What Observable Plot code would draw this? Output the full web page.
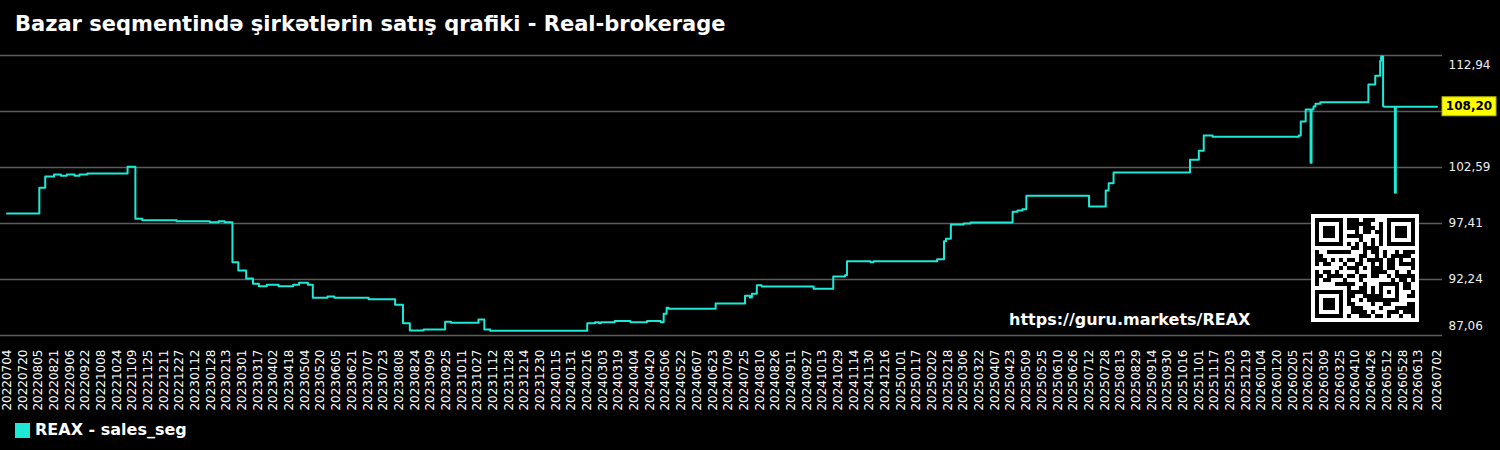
<!DOCTYPE html>
<html>
<head>
<meta charset="utf-8">
<script src="https://cdn.jsdelivr.net/npm/d3@7"></script>
<script src="https://cdn.jsdelivr.net/npm/@observablehq/plot@0.6"></script>
<style>
  html, body { margin: 0; padding: 0; background: #000; }
  #wrap { position: relative; width: 1500px; height: 450px; background: #000; overflow: hidden;
          font-family: "DejaVu Sans", sans-serif; color: #fff; }
  #title { position: absolute; left: 15px; top: 12px; font-size: 21px; font-weight: bold; line-height: 1.164; white-space: nowrap; }
  #chart { position: absolute; left: 0; top: 40px; }
  #legend { position: absolute; left: 15px; top: 421px; font-size: 16px; font-weight: bold; line-height: 1.164;
            display: flex; align-items: center; white-space: nowrap; }
  #legend .sw { width: 15px; height: 15px; margin-right: 5px; }
  #wm { position: absolute; left: 1009px; top: 311px; font-size: 16px; font-weight: bold; line-height: 1.164; white-space: nowrap; }
  #qr { position: absolute; left: 1311px; top: 214px; }
</style>
</head>
<body>
<div id="wrap">
  <div id="title"></div>
  <div id="chart"></div>
  <div id="wm"></div>
  <div id="qr"></div>
  <div id="legend"><div class="sw"></div><span></span></div>
</div>
<script>
// ---------------- data ----------------
const titleText = "Bazar seqmentində şirkətlərin satış qrafiki - Real-brokerage";
const seriesName = "REAX - sales_seg";
const watermark = "https://guru.markets/REAX";

// change points of the step series (date, value)
const dates = [
  "20220704","20220806","20220812","20220821","20220828","20220903","20220911","20220916","20220924",
  "20221104","20221112","20221119","20221224","20230127","20230205","20230211","20230219","20230225",
  "20230305","20230312","20230318","20230326","20230407","20230422","20230428","20230507","20230512",
  "20230527","20230603","20230708","20230804","20230812","20230819","20230902","20230924","20230930",
  "20231028","20231103","20231109","20240216","20240224","20240228","20240301","20240315","20240331",
  "20240417","20240501","20240504","20240507","20240509","20240626","20240726","20240731","20240802",
  "20240807","20240812","20241004","20241024","20241105","20241107","20241201","20241204","20250207",
  "20250214","20250216","20250221","20250306","20250313","20250425","20250430","20250505","20250509",
  "20250712","20250729","20250801","20250806","20251023","20251101","20251106","20251115","20260211",
  "20260213","20260218","20260223","20260224","20260226","20260228","20260305","20260423","20260430",
  "20260505","20260506","20260508","20260509","20260520","20260521","20260702"
];
const values = [
  98.34,100.71,101.76,101.94,101.82,101.94,101.82,101.94,102.03,
  102.65,97.85,97.72,97.62,97.53,97.62,97.53,93.84,93.07,
  92.33,91.84,91.62,91.75,91.62,91.75,91.93,91.75,90.54,
  90.66,90.54,90.42,89.91,88.20,87.52,87.61,88.32,88.23,
  88.54,87.61,87.49,88.20,88.29,88.20,88.29,88.41,88.29,
  88.41,88.29,89.07,89.62,89.53,90.02,90.73,90.57,90.91,
  91.71,91.59,91.38,92.51,92.63,93.93,93.84,93.93,94.11,
  95.78,96.00,97.32,97.41,97.50,98.49,98.61,98.73,99.97,
  98.98,100.46,101.14,102.13,103.30,104.13,105.55,105.43,105.55,
  106.84,107.95,103.02,107.95,108.23,108.48,108.63,110.26,111.06,
  112.45,112.85,108.26,108.20,100.25,108.20,108.20
];

const xTickLabels = [
  "20220704","20220720","20220805","20220821","20220906","20220922","20221008","20221024","20221109","20221125","20221211","20221227",
  "20230112","20230128","20230213","20230301","20230317","20230402","20230418","20230504","20230520","20230605","20230621","20230707",
  "20230723","20230808","20230824","20230909","20230925","20231011","20231027","20231112","20231128","20231214","20231230",
  "20240115","20240131","20240216","20240303","20240319","20240404","20240420","20240506","20240522","20240607","20240623","20240709",
  "20240725","20240810","20240826","20240911","20240927","20241013","20241029","20241114","20241130","20241216",
  "20250101","20250117","20250202","20250218","20250306","20250322","20250407","20250423","20250509","20250525","20250610","20250626",
  "20250712","20250728","20250813","20250829","20250914","20250930","20251016","20251101","20251117","20251203","20251219",
  "20260104","20260120","20260205","20260221","20260309","20260325","20260410","20260426","20260512","20260528","20260613","20260702"
];
const yTicks = [87.06, 92.24, 97.41, 102.59, 107.76, 112.94];
const lastValueLabel = "108,20";

// ---------------- colours ----------------
const lineColor = "#1de9d6";
const gridColor = "#5c5c5c";

// ---------------- build ----------------
const parse = d3.utcParse("%Y%m%d");
const fmtDate = d3.utcFormat("%Y%m%d");
const fmtY = v => d3.format(".2f")(v).replace(".", ",");
const data = dates.map((d, i) => ({date: parse(d), value: values[i]}));
const xTicks = xTickLabels.map(parse);

const W = 1500, H = 375, mL = 6.5, mR = 63.5, mT = 15, mB = 80;

const chart = Plot.plot({
  width: W, height: H,
  marginLeft: mL, marginRight: mR, marginTop: mT, marginBottom: mB,
  style: {background: "transparent", color: "#fff", fontFamily: "DejaVu Sans, sans-serif", fontSize: "12px", overflow: "visible"},
  x: {type: "utc", domain: [xTicks[0], xTicks[xTicks.length - 1]]},
  y: {domain: [yTicks[0], yTicks[yTicks.length - 1]]},
  marks: [
    Plot.ruleY(yTicks, {stroke: gridColor, strokeWidth: 1.5, insetLeft: -mL, insetRight: -5.5}),
    Plot.axisX(xTicks, {tickSize: 0, tickPadding: 14, tickRotate: -90, tickFormat: fmtDate, fontSize: 12, fill: "#fff", label: null}),
    Plot.axisY(yTicks.slice(1, 4), {anchor: "right", tickSize: 0, tickPadding: 11.5, tickFormat: fmtY, fontSize: 12, fill: "#eee", label: null}),
    Plot.axisY([yTicks[5]], {anchor: "right", tickSize: 0, tickPadding: 11.5, tickFormat: fmtY, fontSize: 12, fill: "#eee", dy: 10, label: null}),
    Plot.axisY([yTicks[0]], {anchor: "right", tickSize: 0, tickPadding: 11.5, tickFormat: fmtY, fontSize: 12, fill: "#eee", dy: -9, label: null}),
    Plot.line(data, {x: "date", y: "value", curve: "step-after", stroke: lineColor, strokeWidth: 2})
  ]
});

// last value label (yellow box) placed with the chart's y scale
const yS = chart.scale("y");
const lastY = yS.apply(values[values.length - 1]);
const bx = W - mR + 5.5;
const g = d3.select(chart).append("g");
g.append("rect").attr("x", bx).attr("y", lastY - 9.5).attr("width", 54).attr("height", 19)
  .attr("fill", "#ffff00").attr("stroke", "#b5b500").attr("stroke-width", 1);
g.append("text").attr("x", bx + 27).attr("y", lastY).attr("text-anchor", "middle").attr("dy", "0.35em")
  .attr("font-size", 12).attr("font-weight", "bold").attr("fill", "#000").attr("font-family", "DejaVu Sans, sans-serif")
  .text(lastValueLabel);

document.getElementById("chart").appendChild(chart);
document.getElementById("title").textContent = titleText;
document.getElementById("wm").textContent = watermark;
document.querySelector("#legend span").textContent = seriesName;
document.querySelector("#legend .sw").style.background = lineColor;

// ---------------- QR code (version 2-M, byte mode) ----------------
function penalty(M) {
  const n = M.length; let p = 0;
  const lines = [];
  for (let i = 0; i < n; i++) { lines.push(M[i]); lines.push(M.map(r => r[i])); }
  for (const L of lines) {
    let run = 1;
    for (let j = 1; j < n; j++) {
      if (L[j] === L[j - 1]) { run++; if (run === 5) p += 3; else if (run > 5) p += 1; } else run = 1;
    }
    const s = L.map(b => b ? 1 : 0).join("");
    for (let j = 0; j + 11 <= n; j++) {
      const t = s.slice(j, j + 11);
      if (t === "10111010000" || t === "00001011101") p += 40;
    }
  }
  for (let y = 0; y < n - 1; y++) for (let x = 0; x < n - 1; x++) {
    const c = M[y][x]; if (c === M[y][x + 1] && c === M[y + 1][x] && c === M[y + 1][x + 1]) p += 3;
  }
  let dark = 0; M.forEach(r => r.forEach(b => { if (b) dark++; }));
  p += Math.floor(Math.abs(dark * 100 / (n * n) - 50) / 5) * 10;
  return p;
}
function makeQR(text) {
  const size = 25, eccLen = 16, dataCw = 28, eclBits = 0;
  const bytes = Array.from(new TextEncoder().encode(text));
  const bits = [];
  const push = (v, n) => { for (let i = n - 1; i >= 0; i--) bits.push((v >>> i) & 1); };
  push(4, 4); push(bytes.length, 8); bytes.forEach(b => push(b, 8));
  const cap = dataCw * 8;
  push(0, Math.min(4, cap - bits.length));
  push(0, (8 - bits.length % 8) % 8);
  for (let pad = 0xEC; bits.length < cap; pad ^= 0xEC ^ 0x11) push(pad, 8);
  const dat = [];
  for (let i = 0; i < bits.length; i += 8) { let v = 0; for (let j = 0; j < 8; j++) v = (v << 1) | bits[i + j]; dat.push(v); }
  const mul = (x, y) => { let z = 0; for (let i = 7; i >= 0; i--) { z = (z << 1) ^ ((z >>> 7) * 0x11D); z ^= ((y >>> i) & 1) * x; } return z; };
  const div = []; for (let i = 0; i < eccLen - 1; i++) div.push(0); div.push(1);
  let root = 1;
  for (let i = 0; i < eccLen; i++) {
    for (let j = 0; j < div.length; j++) { div[j] = mul(div[j], root); if (j + 1 < div.length) div[j] ^= div[j + 1]; }
    root = mul(root, 2);
  }
  const rem = div.map(() => 0);
  for (const b of dat) { const f = b ^ rem.shift(); rem.push(0); div.forEach((c, i) => rem[i] ^= mul(c, f)); }
  const cw = dat.concat(rem);
  const base = [...Array(size)].map(() => Array(size).fill(false));
  const fn = [...Array(size)].map(() => Array(size).fill(false));
  const setF = (M, x, y, d) => { M[y][x] = d; fn[y][x] = true; };
  for (let i = 0; i < size; i++) { setF(base, 6, i, i % 2 === 0); setF(base, i, 6, i % 2 === 0); }
  const finder = (cx, cy) => {
    for (let dy = -4; dy <= 4; dy++) for (let dx = -4; dx <= 4; dx++) {
      const x = cx + dx, y = cy + dy;
      if (x < 0 || y < 0 || x >= size || y >= size) continue;
      const d = Math.max(Math.abs(dx), Math.abs(dy));
      setF(base, x, y, d !== 2 && d !== 4);
    }
  };
  finder(3, 3); finder(size - 4, 3); finder(3, size - 4);
  for (let dy = -2; dy <= 2; dy++) for (let dx = -2; dx <= 2; dx++)
    setF(base, 18 + dx, 18 + dy, Math.max(Math.abs(dx), Math.abs(dy)) !== 1);
  const drawFormat = (M, mask) => {
    const d = (eclBits << 3) | mask; let r = d;
    for (let i = 0; i < 10; i++) r = (r << 1) ^ ((r >>> 9) * 0x537);
    const b = ((d << 10) | r) ^ 0x5412; const gb = i => ((b >>> i) & 1) === 1;
    for (let i = 0; i <= 5; i++) setF(M, 8, i, gb(i));
    setF(M, 8, 7, gb(6)); setF(M, 8, 8, gb(7)); setF(M, 7, 8, gb(8));
    for (let i = 9; i < 15; i++) setF(M, 14 - i, 8, gb(i));
    for (let i = 0; i < 8; i++) setF(M, size - 1 - i, 8, gb(i));
    for (let i = 8; i < 15; i++) setF(M, 8, size - 15 + i, gb(i));
    setF(M, 8, size - 8, true);
  };
  drawFormat(base, 0);
  let k = 0;
  for (let right = size - 1; right >= 1; right -= 2) {
    if (right === 6) right = 5;
    for (let v = 0; v < size; v++) for (let j = 0; j < 2; j++) {
      const x = right - j, up = ((right + 1) & 2) === 0, y = up ? size - 1 - v : v;
      if (!fn[y][x] && k < cw.length * 8) { base[y][x] = ((cw[k >>> 3] >>> (7 - (k & 7))) & 1) === 1; k++; }
    }
  }
  const maskFn = [
    (x, y) => (x + y) % 2 === 0, (x, y) => y % 2 === 0, (x, y) => x % 3 === 0, (x, y) => (x + y) % 3 === 0,
    (x, y) => (Math.floor(x / 3) + Math.floor(y / 2)) % 2 === 0, (x, y) => x * y % 2 + x * y % 3 === 0,
    (x, y) => (x * y % 2 + x * y % 3) % 2 === 0, (x, y) => ((x + y) % 2 + x * y % 3) % 2 === 0
  ];
  let best = null, bestP = Infinity;
  for (let m = 0; m < 8; m++) {
    const M = base.map(r => r.slice());
    for (let y = 0; y < size; y++) for (let x = 0; x < size; x++) if (!fn[y][x] && maskFn[m](x, y)) M[y][x] = !M[y][x];
    drawFormat(M, m);
    const p = penalty(M);
    if (p < bestP) { bestP = p; best = M; }
  }
  return best;
}
const qr = makeQR(watermark);
const mod = 4, qn = qr.length, qs = (qn + 2) * mod;
const qsvg = d3.select("#qr").append("svg").attr("width", qs).attr("height", qs);
qsvg.append("rect").attr("width", qs).attr("height", qs).attr("fill", "#fff");
qr.forEach((row, y) => row.forEach((b, x) => {
  if (b) qsvg.append("rect").attr("x", (x + 1) * mod).attr("y", (y + 1) * mod).attr("width", mod).attr("height", mod).attr("fill", "#000");
}));
</script>
</body>
</html>
